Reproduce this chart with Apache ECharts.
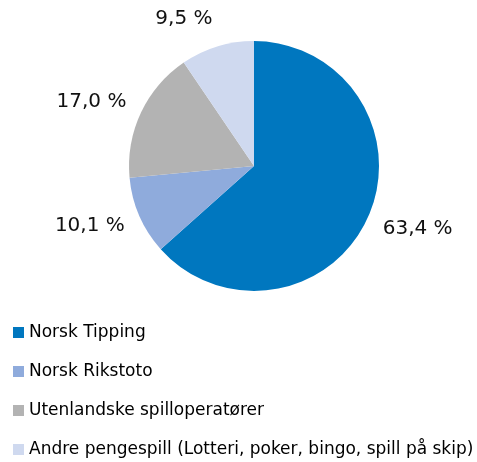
<!DOCTYPE html>
<html><head><meta charset="utf-8">
<script src="https://cdn.jsdelivr.net/npm/echarts@6/dist/echarts.min.js"></script>
<style>html,body{margin:0;padding:0;background:#fff}#c{width:477px;height:462px}</style>
</head><body><div id="c"></div>
<script>
const categories = ['Norsk Tipping', 'Norsk Rikstoto', 'Utenlandske spilloperatører', 'Andre pengespill (Lotteri, poker, bingo, spill på skip)'];
const values = [63.4, 10.1, 17.0, 9.5];
const colors = ['#0077BF', '#8FABDC', '#B3B3B3', '#CFD9EF'];
const labelOffsets = [[0, 5], [0, 3], [0, -4], [0, -12]];

const chart = echarts.init(document.getElementById('c'), null, {renderer: 'canvas'});
chart.setOption({
  animation: false,
  color: colors,
  legend: {
    orient: 'vertical', left: 13, top: 324, height: 200, padding: 0,
    itemWidth: 11, itemHeight: 11, itemGap: 22,
    icon: 'rect',
    textStyle: {fontFamily: 'DejaVu Sans', fontSize: 17, color: '#000'},
    data: categories
  },
  series: [{
    type: 'pie',
    center: [254, 166], radius: 125,
    startAngle: 90, clockwise: true,
    avoidLabelOverlap: false,
    label: {
      show: true, position: 'outside',
      fontFamily: 'DejaVu Sans', fontSize: 20, color: '#111',
      distanceToLabelLine: 0,
      formatter: p => p.value.toFixed(1).replace('.', ',') + ' %'
    },
    labelLine: {show: false, length: 16, length2: 0},
    emphasis: {disabled: true},
    data: categories.map((n, i) => ({name: n, value: values[i], label: {offset: labelOffsets[i]}}))
  }]
});
</script></body></html>
